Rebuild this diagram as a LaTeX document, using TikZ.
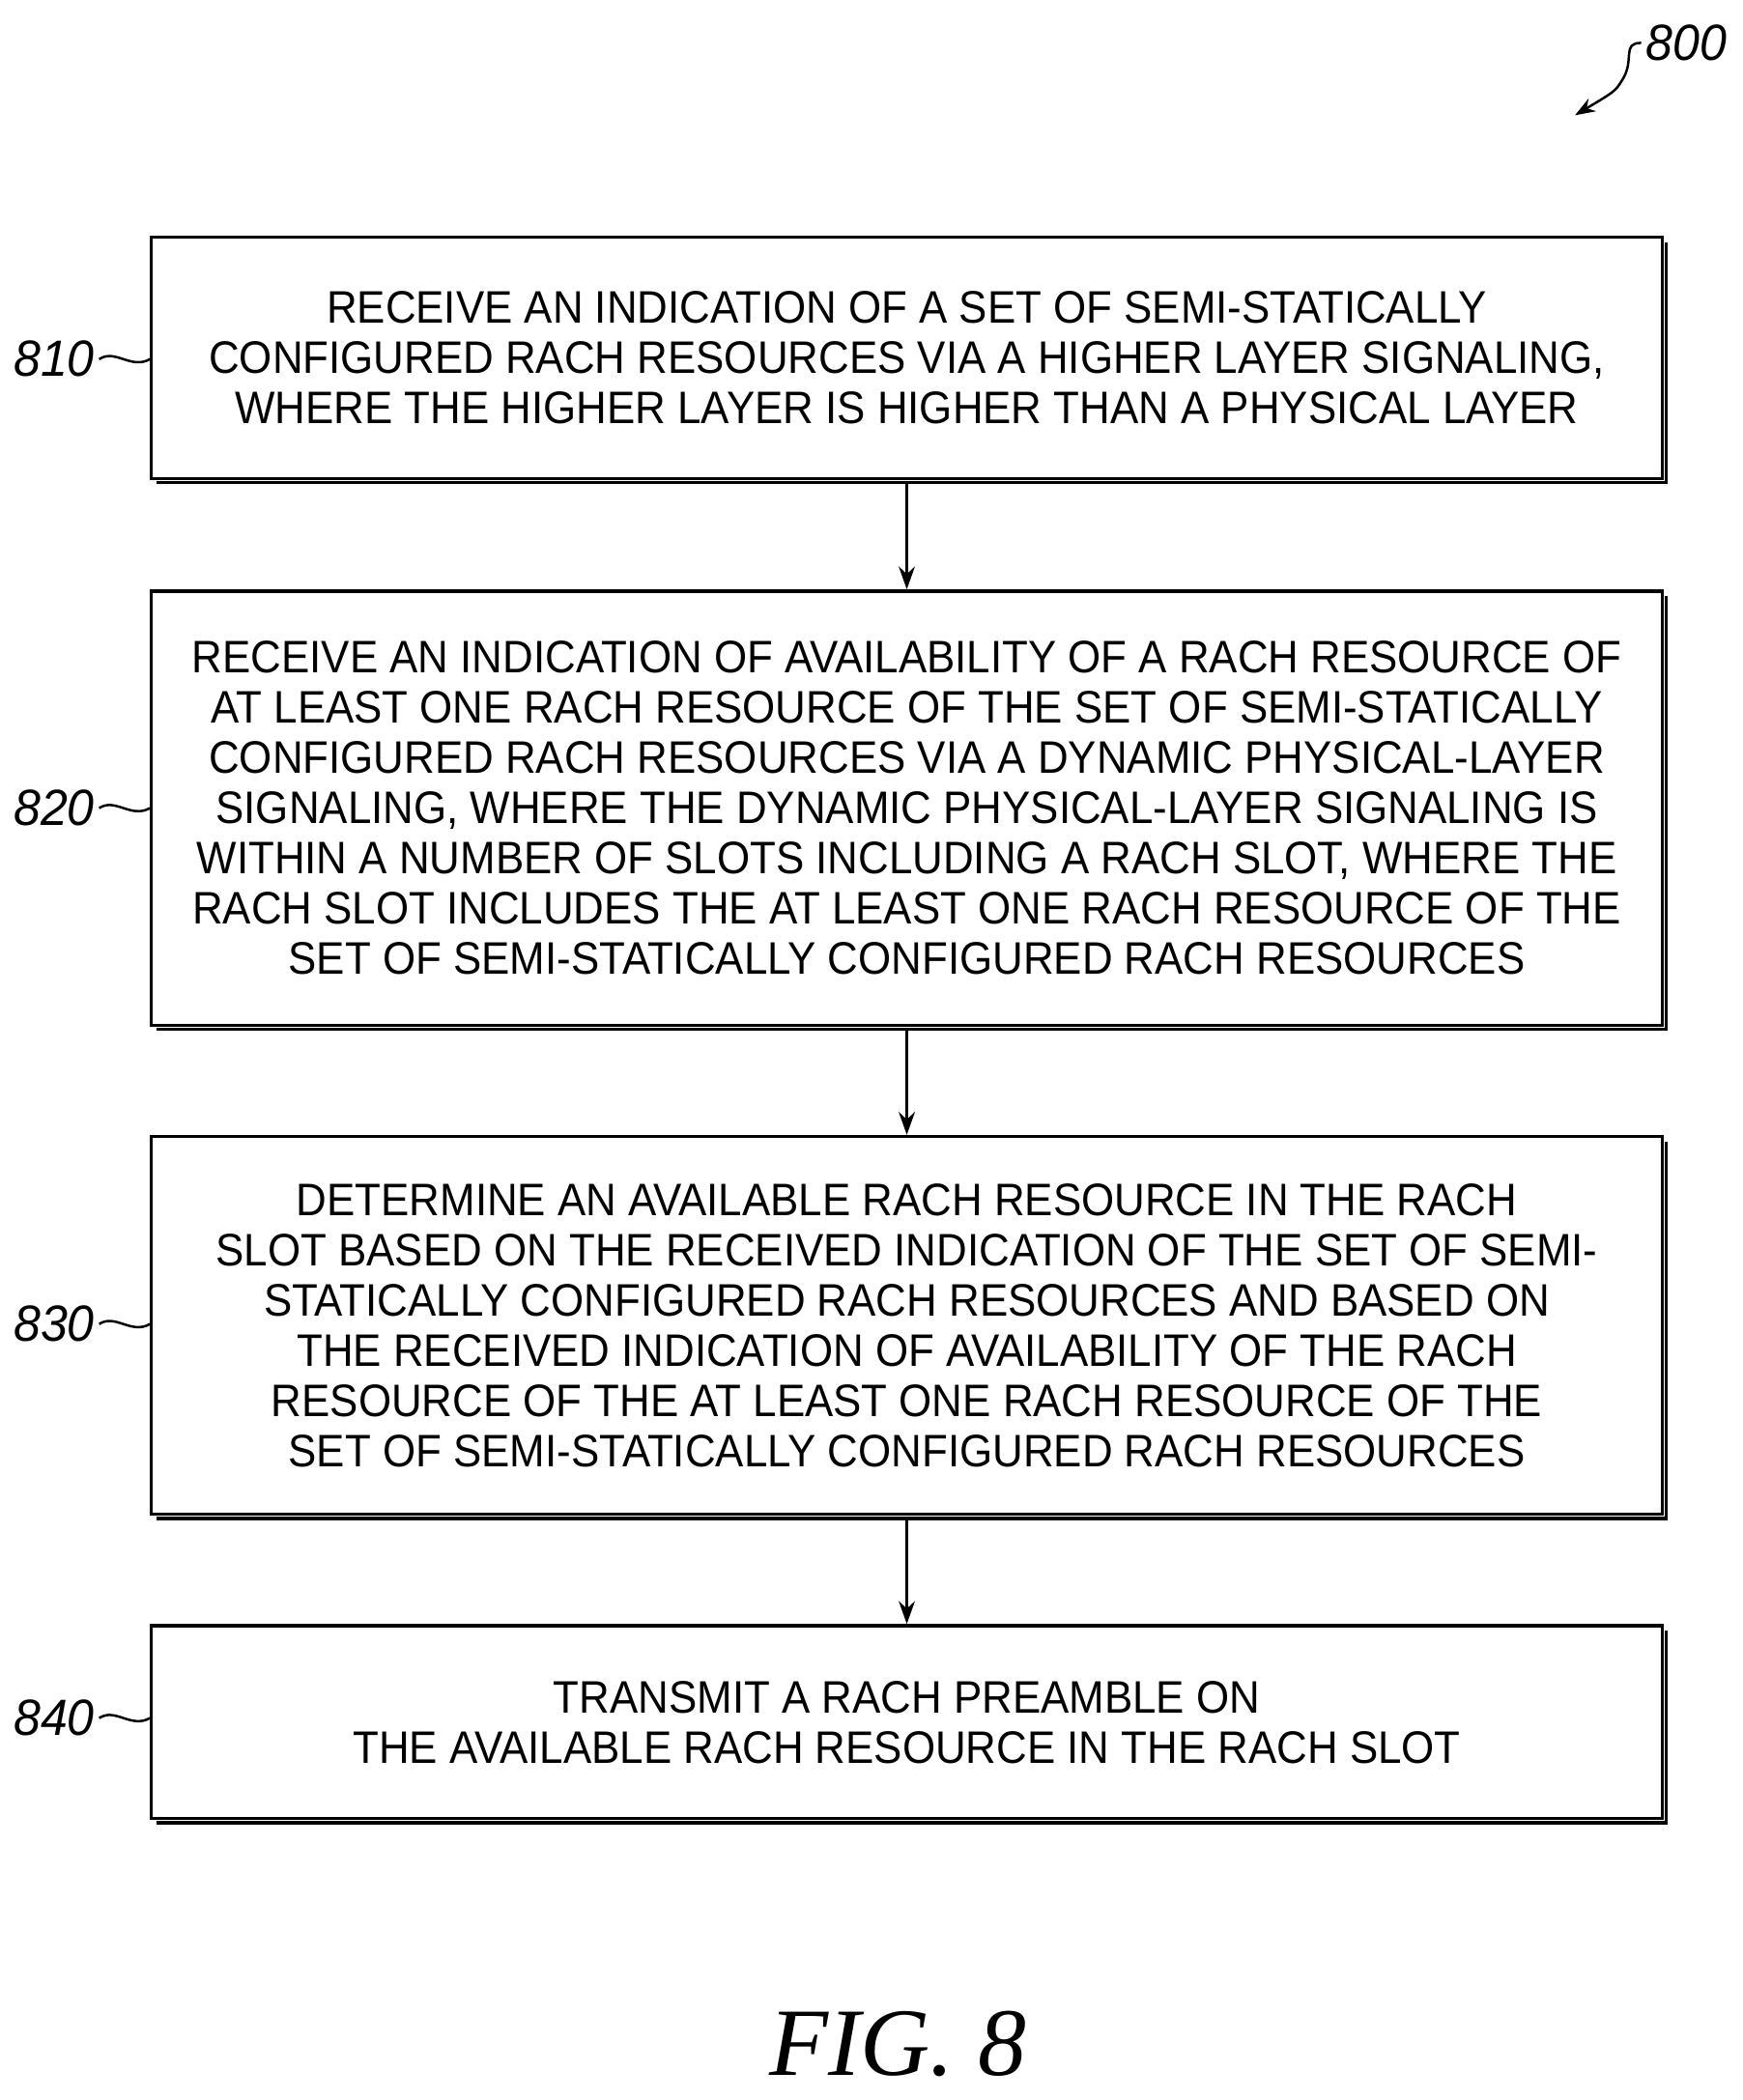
\documentclass[tikz,border=0pt]{standalone}
\usepackage{fontspec}
\setmainfont{Liberation Sans}[FakeStretch=0.93]
\newfontfamily\labfont{Liberation Sans}[FakeStretch=0.95]
\newfontfamily\figfont{Liberation Serif}
\usetikzlibrary{arrows.meta}
\begin{document}
\begin{tikzpicture}[x=1pt,y=-1pt,
  box/.style={draw,line width=2.4pt,minimum width=1127pt,align=center,inner sep=0pt,
    font=\fontsize{34}{37.5}\selectfont},
  arr/.style={line width=2.5pt,-{Stealth[length=17pt,width=12pt]}},
  lab/.style={font=\fontsize{38}{40}\selectfont\labfont\itshape}]
\useasboundingbox (0,0) rectangle (1300,1567);
\newcommand{\shbox}[4]{%
  \node[box,minimum height=#3-#2] (#1) at (676.5,{(#2+#3)/2}) {#4};
  \draw[line width=2.8pt] (1243,#2+4) -- (1243,#3+3) -- (117,#3+3);}
\shbox{b1}{177}{357}{RECEIVE AN INDICATION OF A SET OF SEMI-STATICALLY\\CONFIGURED RACH RESOURCES VIA A HIGHER LAYER SIGNALING,\\WHERE THE HIGHER LAYER IS HIGHER THAN A PHYSICAL LAYER}
\shbox{b2}{441}{765}{RECEIVE AN INDICATION OF AVAILABILITY OF A RACH RESOURCE OF\\AT LEAST ONE RACH RESOURCE OF THE SET OF SEMI-STATICALLY\\CONFIGURED RACH RESOURCES VIA A DYNAMIC PHYSICAL-LAYER\\SIGNALING, WHERE THE DYNAMIC PHYSICAL-LAYER SIGNALING IS\\WITHIN A NUMBER OF SLOTS INCLUDING A RACH SLOT, WHERE THE\\RACH SLOT INCLUDES THE AT LEAST ONE RACH RESOURCE OF THE\\SET OF SEMI-STATICALLY CONFIGURED RACH RESOURCES}
\shbox{b3}{848}{1130}{DETERMINE AN AVAILABLE RACH RESOURCE IN THE RACH\\SLOT BASED ON THE RECEIVED INDICATION OF THE SET OF SEMI-\\STATICALLY CONFIGURED RACH RESOURCES AND BASED ON\\THE RECEIVED INDICATION OF AVAILABILITY OF THE RACH\\RESOURCE OF THE AT LEAST ONE RACH RESOURCE OF THE\\SET OF SEMI-STATICALLY CONFIGURED RACH RESOURCES}
\shbox{b4}{1213}{1357}{TRANSMIT A RACH PREAMBLE ON\\THE AVAILABLE RACH RESOURCE IN THE RACH SLOT}
\draw[arr] (b1.south) ++(0,3) -- (b2.north);
\draw[arr] (b2.south) ++(0,3) -- (b3.north);
\draw[arr] (b3.south) ++(0,3) -- (b4.north);
\node[lab,anchor=east] (l1) at (74,268) {810};
\node[lab,anchor=east] (l2) at (74,603) {820};
\node[lab,anchor=east] (l3) at (74,988) {830};
\node[lab,anchor=east] (l4) at (74,1282) {840};
\foreach \i/\b in {1/b1,2/b2,3/b3,4/b4}
  \draw[line width=1.8pt] (l\i.east) .. controls +(12,-8) and +(-14,8) .. (l\i.east -| \b.west);
\node[lab] (n800) at (1258,32) {800};
\coordinate (a800) at (1175,86);
\draw[line width=1.8pt,-{Stealth[length=15pt,width=11pt]}] (n800.west) .. controls +(-15,0) and +(10,-15) .. (1210,60) .. controls +(-5,8) .. (a800);
\node[font=\fontsize{72}{80}\selectfont\figfont\itshape] (fig) at (670,1525) {FIG. 8};
\end{tikzpicture}
\end{document}
